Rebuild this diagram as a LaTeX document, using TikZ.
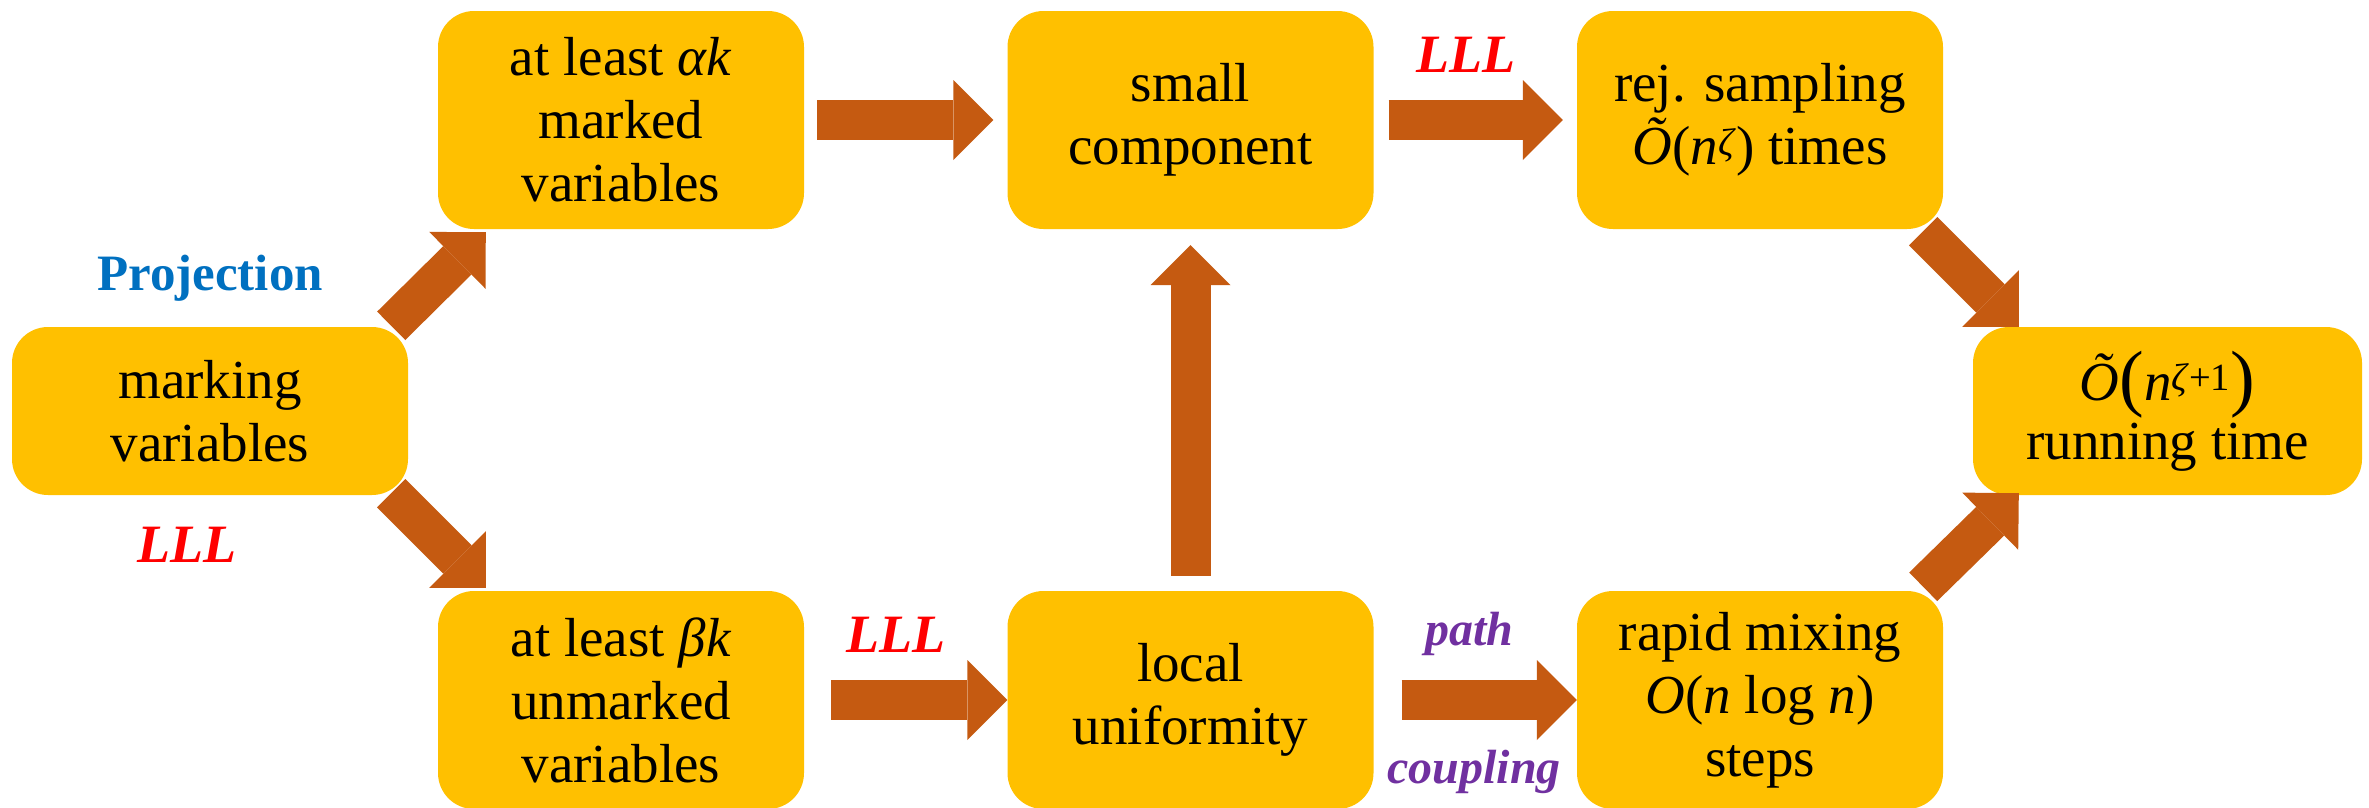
\documentclass[tikz,border=0pt]{standalone}
\usepackage{fontspec}
\setmainfont{Liberation Serif}
\usetikzlibrary{arrows.meta,calc}

\definecolor{boxgold}{HTML}{FFC000}
\definecolor{arrowbrown}{HTML}{C55A11}
\definecolor{projblue}{HTML}{0070C0}
\definecolor{lllred}{HTML}{FF0000}
\definecolor{pathpurple}{HTML}{7030A0}

% italic symbols set in the text font
\newcommand{\sym}[1]{\textit{#1}}
\newcommand{\bigparen}[1]{{\fontsize{74}{63}\selectfont\raisebox{-2pt}{#1}}}

\begin{document}
\begin{tikzpicture}[x=1pt,y=-1pt,
  stage/.style={fill=boxgold, rounded corners=36pt, align=center, inner sep=0pt,
    text=black, font=\rmfamily\fontsize{55}{63}\selectfont},
  wide/.style={minimum width=366pt, minimum height=218pt},
  flat/.style={minimum width=396pt, minimum height=168pt},
  flow/.style={draw=arrowbrown, line width=40pt,
    -{Triangle[length=40pt,width=80pt,line width=0pt]}},
  tag/.style={anchor=base, inner sep=0pt, font=\rmfamily\bfseries\itshape\fontsize{54}{54}\selectfont},
  pathtag/.style={anchor=base, inner sep=0pt, text=pathpurple,
    font=\rmfamily\bfseries\itshape\fontsize{48}{48}\selectfont}
]
\useasboundingbox (0,0) rectangle (2369,807);

% stages
\node[stage, flat] (mark) at (210,411) {marking\\variables};
\node[stage, wide] (alpha) at (621,120) {at least \sym{αk}\\marked\\variables};
\node[stage, wide] (beta) at (621,700) {at least \sym{βk}\\unmarked\\variables};
\node[stage, wide] (small) at (1190.5,120) {small\\component};
\node[stage, wide] (local) at (1190.5,700) {local\\uniformity};
\node[stage, wide] (rej) at (1760,120)
  {rej. sampling\\\sym{Õ}(\sym{n}\textsuperscript{\sym{ζ}}) times};
\node[stage, wide] (rapid) at (1760,700)
  {rapid mixing\\\sym{O}(\sym{n} log \sym{n})\\steps};
\node[stage, minimum width=389pt, minimum height=168pt] (run) at (2167.5,411)
  {\sym{Õ}\bigparen{(}\sym{n}\textsuperscript{\sym{ζ}+1}\bigparen{)}\\[-4pt]running time};

% labels on the connectors
\node[tag, text=projblue, font=\rmfamily\bfseries\fontsize{51}{51}\selectfont] (proj) at (210,290) {Projection};
\node[tag, text=lllred] (lllmark) at (187,562) {LLL};
\node[tag, text=lllred] (lllsmall) at (1466,72) {LLL};
\node[tag, text=lllred] (lllbeta) at (896,652) {LLL};
\node[pathtag] (pathlbl) at (1469,645) {path};
\node[pathtag] (couplbl) at (1474,783) {coupling};

% connectors
\draw[flow] ($(mark.north east)+(-17,-1)$) -- ($(alpha.south west)+(48,3)$);
\draw[flow] ($(mark.south east)+(-17,-2)$) -- ($(beta.north west)+(48,-3)$);
\draw[flow, shorten <=13pt, shorten >=14pt] (alpha.east) -- (small.west);
\draw[flow, shorten <=15pt, shorten >=14pt] (small.east) -- (rej.west);
\draw[flow, shorten <=27pt] (beta.east) -- (local.west);
\draw[flow, shorten <=28pt] (local.east) -- (rapid.west);
\draw[flow, shorten <=15pt, shorten >=16pt] (local.north) -- (small.south);
\draw[flow] ($(rej.south east)+(-20,2)$) -- ($(run.north west)+(46,0)$);
\draw[flow] ($(rapid.north east)+(-20,-4)$) -- ($(run.south west)+(46,-2)$);
\end{tikzpicture}
\end{document}
